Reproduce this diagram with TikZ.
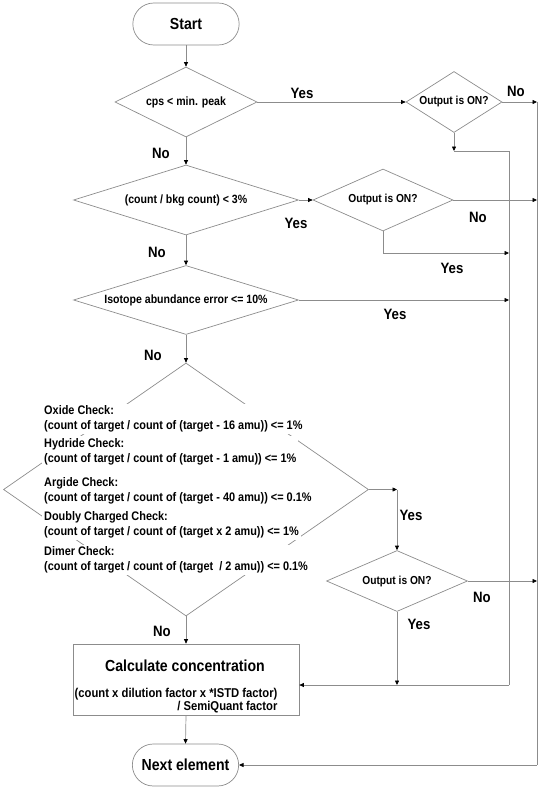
\documentclass[tikz,border=0pt]{standalone}
\usepackage{fontspec}
\setmainfont{Liberation Sans}[FakeStretch=0.88]
\usetikzlibrary{shapes.geometric,shapes.misc,arrows.meta}
\definecolor{ln}{RGB}{140,140,140}
\begin{document}
\begin{tikzpicture}[x=1pt,y=-1pt,
  every node/.style={font=\bfseries},
  line/.style={draw=ln, line width=0.7pt},
  arr/.style={line, -{Triangle[length=4.5pt,width=4pt,color=black]}},
  dia/.style={diamond, draw=ln, line width=0.7pt, inner sep=0pt},
  term/.style={rounded rectangle, draw=ln, line width=0.7pt, minimum width=113pt, minimum height=42pt, font=\fontsize{16}{19}\selectfont\bfseries},
  lbl/.style={font=\fontsize{15}{18}\selectfont\bfseries, inner sep=0pt},
  small/.style={font=\fontsize{12}{15}\selectfont\bfseries},
  outq/.style={font=\fontsize{11.6}{14}\selectfont\bfseries},
  chktext/.style={fill=white, align=left, anchor=west, inner xsep=2pt, inner ysep=2pt, font=\fontsize{12.4}{15}\selectfont\bfseries}
]
\useasboundingbox (0,0) rectangle (541,789);

% nodes
\node[term] (start) at (186,24) {Start};
\node[dia, small, aspect=2, minimum width=142pt, minimum height=70pt] (d1) at (186,102) {cps < min. peak};
\node[dia, outq, aspect=1.6, minimum width=96pt, minimum height=61pt] (o1) at (454,102) {Output is ON?};
\node[dia, small, aspect=3.2, minimum width=225pt, minimum height=70pt] (d2) at (186,200) {(count / bkg count) < 3\%};
\node[dia, outq, aspect=2.26, minimum width=140pt, minimum height=62pt] (o2) at (383,200) {Output is ON?};
\node[dia, small, aspect=3.2, minimum width=225pt, minimum height=69pt] (d3) at (186,300) {Isotope abundance error <= 10\%};
\node[dia, minimum width=365pt, minimum height=253pt] (chk) at (186,489.5) {};
\node[chktext] (ox) at (42,419) {Oxide Check:\\(count of target / count of (target - 16 amu)) <= 1\%};
\node[chktext] (hy) at (42,451.5) {Hydride Check:\\(count of target / count of (target - 1 amu)) <= 1\%};
\node[chktext] (ar) at (42,490.5) {Argide Check:\\(count of target / count of (target - 40 amu)) <= 0.1\%};
\node[chktext] (dc) at (42,525) {Doubly Charged Check:\\(count of target / count of (target x 2 amu)) <= 1\%};
\node[chktext] (di) at (42,560) {Dimer Check:\\(count of target / count of (target~~/ 2 amu)) <= 0.1\%};
\node[dia, outq, aspect=2.3, minimum width=141pt, minimum height=61pt] (o3) at (397,581) {Output is ON?};
\node[draw=ln, line width=0.7pt, minimum width=226pt, minimum height=71pt] (calc) at (186,679.5) {};
\node[font=\fontsize{16}{19}\selectfont\bfseries] (calct) at (185,666) {Calculate concentration};
\node[align=right, anchor=east, font=\fontsize{12.8}{13}\selectfont\bfseries] (calcf) at (281,700.5) {(count x dilution factor x *ISTD factor)\\/ SemiQuant factor};
\node[term] (next) at (185.5,765) {Next element};

% helper coordinates
\coordinate (rt) at (537,102);
\coordinate (rb) at (537,765);
\coordinate (b1) at (454,151);
\coordinate (bt) at (509,151);
\coordinate (bb) at (509,685);
\coordinate (y2) at (509,253);
\coordinate (c1) at (397,489.5);

% connectors
\draw[arr] (start.south) -- (d1.north);
\draw[arr] (d1.east) -- (o1.west);
\draw[arr] (o1.east) -- (rt);
\draw[line] (rt) -- (rb);
\draw[arr] (rb) -- (next.east);
\draw[arr] (o1.south) -- (b1);
\draw[line] (b1) -- (bt) -- (bb);
\draw[arr] (bb) -- (calc.east |- bb);
\draw[arr] (d1.south) -- (d2.north);
\draw[arr] (d2.east) -- (o2.west);
\draw[arr] (o2.east) -- (o2.east -| rt);
\draw[arr] (o2.south) |- (y2);
\draw[arr] (d2.south) -- (d3.north);
\draw[arr] (d3.east) -- (d3.east -| bt);
\draw[arr] (d3.south) -- (chk.north);
\draw[arr] (chk.east) -- (c1);
\draw[arr] (c1) -- (o3.north);
\draw[arr] (o3.east) -- (o3.east -| rt);
\draw[arr] (o3.south) -- (o3.south |- bb);
\draw[arr] (chk.south) -- (calc.north);
\draw[arr] (calc.south) -- (next.north);

% labels
\node[lbl] (l1) at (302,93) {Yes};
\node[lbl] (l2) at (516,91) {No};
\node[lbl] (l3) at (161,153) {No};
\node[lbl] (l4) at (296,223) {Yes};
\node[lbl] (l5) at (478,217) {No};
\node[lbl] (l6) at (452,268) {Yes};
\node[lbl] (l7) at (157,252) {No};
\node[lbl] (l8) at (395,314) {Yes};
\node[lbl] (l9) at (153,355) {No};
\node[lbl] (l10) at (411,515) {Yes};
\node[lbl] (l11) at (482,597) {No};
\node[lbl] (l12) at (419,624) {Yes};
\node[lbl] (l13) at (162,631) {No};
\end{tikzpicture}
\end{document}
